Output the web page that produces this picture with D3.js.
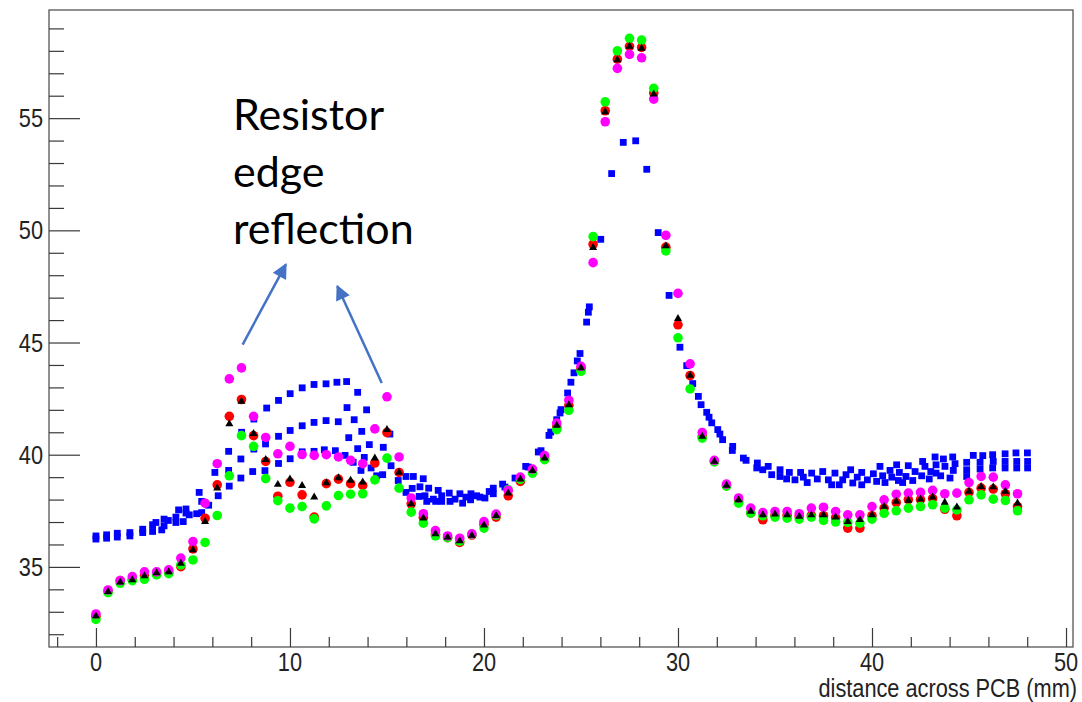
<!DOCTYPE html>
<html><head><meta charset="utf-8">
<script src="https://cdn.jsdelivr.net/npm/d3@7"></script>
<style>html,body{margin:0;padding:0;background:#fff;} svg{display:block}</style>
</head><body><svg id="chart" width="1082" height="702"></svg>
<script>
// Scan positions (mm) shared by the four circle / triangle series
const scanX = [0,0.625,1.25,1.875,2.5,3.125,3.75,4.375,5,5.625,6.25,6.875,7.5,8.125,8.75,9.375,10,10.625,11.25,11.875,
  12.5,13.125,13.75,14.375,15,15.625,16.25,16.875,17.5,18.125,18.75,19.375,20,20.625,21.25,21.875,22.5,23.125,23.75,24.375,
  25,25.625,26.25,26.875,27.5,28.125,28.75,29.375,30,30.625,31.25,31.875,32.5,33.125,33.75,34.375,35,35.625,36.25,36.875,
  37.5,38.125,38.75,39.375,40,40.625,41.25,41.875,42.5,43.125,43.75,44.375,45,45.625,46.25,46.875,47.5];

const redVals = [32.8,33.9,34.39,34.45,34.6,34.7,34.76,35.01,35.8,37.17,38.66,41.71,42.46,40.85,39.7,38.15,38.77,38.21,37.22,38.71,
  38.91,38.71,38.63,39.63,40.99,39.21,37.81,37.2,36.45,36.3,36.09,36.42,36.9,37.22,38.17,38.81,39.3,39.85,41.25,42.2,
  43.85,49.38,55.33,57.63,58.2,58.15,56.12,49.25,45.79,43.53,40.8,39.7,38.62,37.95,37.4,37.1,37.3,37.3,37.25,37.3,
  37.28,37.2,36.73,36.73,37.28,37.62,37.87,38.0,38.0,38.05,37.57,37.28,38.32,38.51,38.47,38.26,37.69];

const blackVals = [32.81,33.9,34.32,34.42,34.6,34.73,34.78,35.16,35.76,37.02,38.51,41.37,42.38,40.94,39.78,38.67,38.91,38.62,38.11,38.74,
  38.97,38.85,38.78,39.85,41.12,39.21,37.81,37.17,36.47,36.32,36.16,36.4,36.86,37.28,38.29,38.91,39.29,39.85,41.31,42.22,
  43.87,49.23,55.28,57.6,58.2,58.11,56.07,49.3,46.06,43.53,40.82,39.7,38.63,37.99,37.47,37.32,37.35,37.32,37.25,37.32,
  37.32,37.22,37.02,37.1,37.32,37.69,37.92,37.96,38.02,38.11,37.87,37.66,38.36,38.58,38.56,38.36,37.84];

const greenVals = [32.66,33.85,34.27,34.39,34.45,34.64,34.7,35.09,35.31,36.09,37.29,39.06,40.85,40.37,38.94,37.95,37.62,37.69,37.14,37.72,
  38.18,38.24,38.26,38.88,39.85,38.51,37.44,36.95,36.38,36.3,36.15,36.45,36.73,37.3,38.44,38.9,39.18,39.78,41.12,41.98,
  43.72,49.72,55.73,58.0,58.56,58.48,56.33,49.08,45.21,42.93,40.74,39.68,38.6,37.84,37.4,37.28,37.22,37.17,37.13,37.22,
  37.07,37.0,36.98,36.95,37.13,37.39,37.5,37.62,37.69,37.77,37.62,37.54,37.99,38.21,38.02,37.96,37.5];

const magentaVals = [32.9,33.97,34.39,34.57,34.78,34.78,34.87,35.39,36.13,37.84,39.6,43.38,43.87,41.71,40.77,40.04,40.37,40.01,39.97,40.0,
  39.9,39.75,39.6,41.15,42.58,39.9,38.07,37.37,36.62,36.38,36.28,36.47,37.02,37.35,38.41,39.0,39.36,39.96,41.41,42.43,
  43.94,48.56,54.84,57.22,57.84,57.69,55.85,49.78,47.19,44.05,40.99,39.75,38.69,38.07,37.62,37.42,37.47,37.47,37.37,37.62,
  37.66,37.47,37.32,37.32,37.69,37.99,38.24,38.29,38.32,38.41,38.26,38.29,38.76,39.03,39.0,38.66,38.26];

// Reference scans (blue squares): positions and values
const blueX = [0,0,0.55,0.55,1.10,1.10,1.75,1.75,2.41,2.41,2.92,2.92,3.09,3.39,3.51,3.51,3.73,4.12,4.12,4.26,
  4.50,4.64,4.64,4.81,5.19,5.32,5.45,5.45,5.81,6.13,6.30,6.84,6.84,6.87,7.47,7.47,7.51,8.14,8.14,8.08,
  8.80,8.74,8.71,9.41,9.41,9.41,10.01,10.01,10.01,10.63,10.63,10.63,11.24,11.24,11.24,11.86,11.86,11.77,12.42,12.49,
  12.34,12.92,12.94,13.03,12.84,13.49,13.31,13.49,13.26,13.95,13.70,14.09,13.83,13.66,14.18,14.81,15.15,14.78,14.47,15.21,
  15.58,15.98,16.36,15.98,16.30,16.70,16.87,16.66,17.05,17.15,16.96,17.39,17.64,17.82,17.82,17.51,18.21,18.25,18.51,18.76,
  18.90,19.07,19.33,19.31,19.62,19.79,20.05,20.27,20.48,20.48,20.96,21.08,21.60,22.15,22.28,22.80,22.94,23.35,23.44,23.75,
  23.92,23.97,24.31,24.48,24.64,24.81,24.95,25.29,25.38,25.43,26.02,26.58,27.18,27.82,28.39,28.98,29.54,30.10,30.45,30.76,
  31.05,31.19,31.48,31.60,31.74,32.05,32.16,32.30,32.82,32.80,33.37,33.51,34.09,34.06,34.37,34.65,34.83,35.26,35.26,35.60,
  35.74,36.03,36.32,36.46,36.66,36.89,37.18,37.46,37.75,37.92,38.09,38.31,38.49,38.66,38.90,39.01,39.24,39.47,39.47,39.76,
  40.07,40.24,40.41,40.55,40.67,40.93,41.02,41.27,41.41,41.36,41.58,41.75,41.87,42.10,42.22,42.56,42.61,42.73,42.95,43.03,
  43.25,43.30,43.30,43.54,43.68,43.76,44.02,44.16,44.19,44.28,44.88,44.88,44.88,45.22,45.57,45.71,45.57,46.22,46.25,46.22,
  46.86,46.86,46.86,47.42,47.46,47.46,48.01,48.02,48.02];
const blueY = [36.38,36.24,36.43,36.28,36.50,36.33,36.53,36.38,36.68,36.53,36.88,36.58,36.98,36.65,37.13,36.83,37.07,37.22,36.98,37.54,
  37.02,37.58,37.40,37.32,37.37,38.32,37.92,37.42,37.75,39.21,38.17,40.15,39.30,38.60,39.81,38.96,41.00,41.59,40.25,39.25,
  42.08,40.48,39.29,42.42,40.82,39.61,42.72,41.08,39.82,42.98,41.29,40.13,43.13,41.44,40.15,43.16,41.52,40.22,43.23,41.47,
  40.18,43.26,42.10,40.76,39.97,42.78,41.56,40.27,39.66,42.00,41.04,40.45,39.88,39.30,39.41,40.33,40.92,39.11,39.06,39.51,
  38.85,39.03,39.03,38.32,38.50,38.57,38.93,38.14,37.92,38.51,38.17,38.02,38.41,38.17,37.92,37.92,38.29,37.92,38.02,38.26,
  37.84,38.11,38.26,37.99,38.17,38.11,38.07,38.36,38.51,38.26,38.69,38.56,38.96,39.48,39.45,40.12,40.18,40.86,41.01,41.56,
  41.86,42.01,42.75,43.23,43.65,44.18,44.51,45.91,46.35,46.59,49.60,52.53,53.92,53.99,52.72,49.90,47.10,44.79,43.97,43.17,
  42.60,42.23,41.89,41.67,41.42,41.12,40.92,40.67,40.37,40.19,39.85,39.75,39.63,39.41,39.33,39.48,39.11,39.33,39.03,38.92,
  39.21,38.88,39.21,39.00,38.76,39.18,38.92,39.25,38.88,38.66,39.18,38.66,38.88,39.11,39.33,38.74,39.00,39.21,38.66,38.88,
  39.15,38.81,39.48,39.06,38.76,39.30,39.00,39.55,39.21,38.85,38.76,39.03,39.51,38.85,39.25,39.06,39.70,39.48,38.92,39.25,
  39.90,39.55,39.18,39.06,39.81,39.48,38.96,39.90,39.30,39.60,39.66,39.33,39.03,39.97,39.66,39.96,39.36,40.00,39.70,39.41,
  40.04,39.70,39.41,40.08,39.70,39.41,40.08,39.70,39.41];

const xMajorTicks = [0,10,20,30,40,50];
const yMajorTicks = [35,40,45,50,55];
const xTitle = "distance across PCB (mm)";
const noteLines = ["Resistor","edge","reflection"];

// annotation arrows, in data units: [x0, y0, x1, y1]
const arrows = [[7.56,44.91,9.79,48.48],[14.73,43.2,12.44,47.51]];
const noteAnchor = [7.06,54.46];

const svg = d3.select("#chart");
const frame = {left:49, right:1073, top:10, bottom:647};

const x = d3.scaleLinear().domain([-2.42, 50.36]).range([frame.left, frame.right]);
const y = d3.scaleLinear().domain([31.43, 59.82]).range([frame.bottom, frame.top]);

const axisColor = "#3a3a3a";
const labelFont = "'Liberation Sans', Arial, Helvetica, sans-serif";

// frame box
svg.append("rect")
  .attr("x", frame.left).attr("y", frame.top)
  .attr("width", frame.right - frame.left).attr("height", frame.bottom - frame.top)
  .attr("fill", "none").attr("stroke", "#555").attr("stroke-width", 1.3);

// x axis: major ticks every 10, minor every 2
const xMinor = d3.range(-2, 50.01, 2).filter(v => v % 10 !== 0);
const xAxisMajor = d3.axisBottom(x).tickValues(xMajorTicks).tickSize(-19).tickFormat("");
const xAxisMinor = d3.axisBottom(x).tickValues(xMinor).tickSize(-10).tickFormat("");
[xAxisMajor, xAxisMinor].forEach(ax => {
  const g = svg.append("g").attr("transform", `translate(0,${frame.bottom})`).call(ax);
  g.select(".domain").remove();
  g.selectAll("line").attr("stroke", axisColor).attr("stroke-width", 1.2);
});

// y axis: major ticks every 5, minor every 1
const yMinor = d3.range(32, 59.01, 1).filter(v => v % 5 !== 0);
const yAxisMajor = d3.axisLeft(y).tickValues(yMajorTicks).tickSize(-31).tickFormat("");
const yAxisMinor = d3.axisLeft(y).tickValues(yMinor).tickSize(-15).tickFormat("");
[yAxisMajor, yAxisMinor].forEach(ax => {
  const g = svg.append("g").attr("transform", `translate(${frame.left},0)`).call(ax);
  g.select(".domain").remove();
  g.selectAll("line").attr("stroke", axisColor).attr("stroke-width", 1.2);
});

// narrow Helvetica-like text helper
function narrowText(parent, tx, ty, str, anchor, size) {
  return parent.append("text")
    .attr("transform", `translate(${tx},${ty}) scale(0.87,1)`)
    .attr("text-anchor", anchor)
    .style("font-family", labelFont)
    .style("font-size", size + "px")
    .attr("fill", "#222")
    .text(str);
}

const labels = svg.append("g");
xMajorTicks.forEach(v => narrowText(labels, x(v), 671, String(v), "middle", 25));
yMajorTicks.forEach(v => narrowText(labels, 43, y(v) + 9, String(v), "end", 25));
narrowText(labels, 1077, 697, xTitle, "end", 25);

// markers
const marks = svg.append("g");
const pts = (vals) => vals.map((v, i) => [scanX[i], v]);

marks.selectAll("rect.blue").data(d3.zip(blueX, blueY)).join("rect")
  .attr("class", "blue")
  .attr("x", d => x(d[0]) - 3.4).attr("y", d => y(d[1]) - 3.4)
  .attr("width", 6.8).attr("height", 6.8).attr("fill", "#0000ff");

function circles(vals, color) {
  marks.append("g").selectAll("circle").data(pts(vals)).join("circle")
    .attr("cx", d => x(d[0])).attr("cy", d => y(d[1])).attr("r", 4.8).attr("fill", color);
}
circles(redVals, "#ff0000");
circles(greenVals, "#00ff00");
circles(magentaVals, "#ff00ff");

const tri = d3.symbol().type(d3.symbolTriangle).size(28);
marks.append("g").selectAll("path").data(pts(blackVals)).join("path")
  .attr("d", tri).attr("transform", d => `translate(${x(d[0])},${y(d[1])})`).attr("fill", "#000");

// annotation
const note = svg.append("g");
const defs = svg.append("defs");
defs.append("marker").attr("id", "head")
  .attr("viewBox", "0 0 10 10").attr("refX", 9).attr("refY", 5)
  .attr("markerWidth", 7).attr("markerHeight", 6).attr("markerUnits", "strokeWidth")
  .attr("orient", "auto")
  .append("path").attr("d", "M0,0 L10,5 L0,10 Z").attr("fill", "#4472C4");

note.selectAll("line").data(arrows).join("line")
  .attr("x1", d => x(d[0])).attr("y1", d => y(d[1]))
  .attr("x2", d => x(d[2])).attr("y2", d => y(d[3]))
  .attr("stroke", "#4472C4").attr("stroke-width", 2.5)
  .attr("marker-end", "url(#head)");

note.selectAll("text").data(noteLines).join("text")
  .attr("x", x(noteAnchor[0])).attr("y", (d, i) => y(noteAnchor[1]) + i * 57)
  .style("font-family", "Lato, 'Open Sans', sans-serif")
  .style("font-size", "43px")
  .attr("fill", "#000")
  .text(d => d);
</script>
</body></html>
